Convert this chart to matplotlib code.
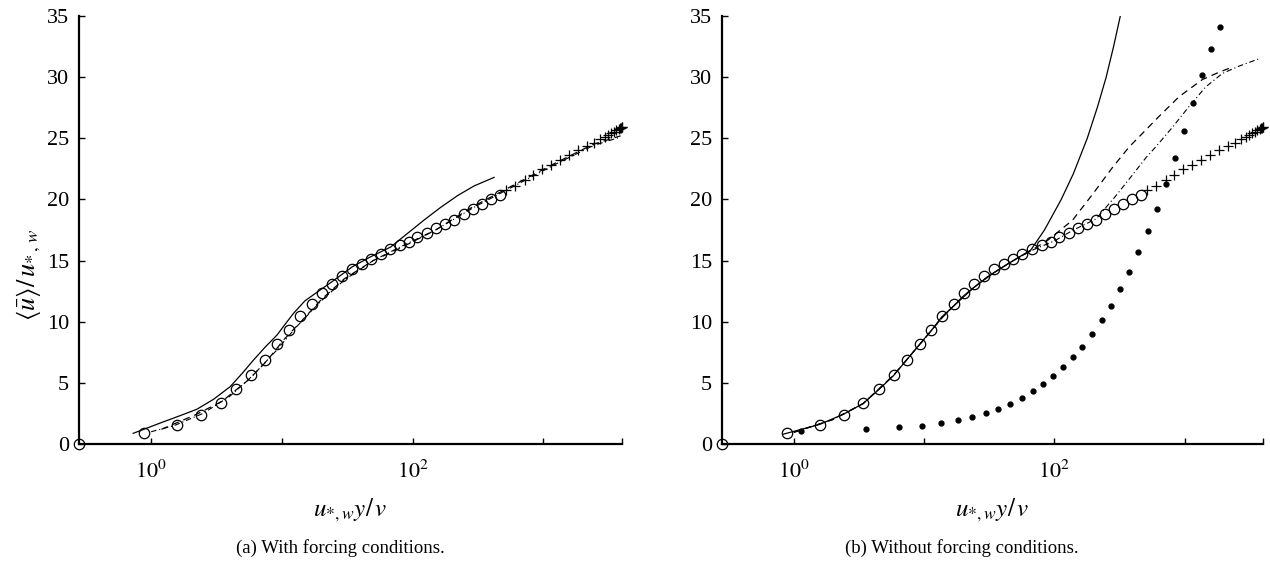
"""
Mean velocity profiles in wall units, with and without forcing conditions.
"""

import matplotlib
matplotlib.use('Agg')
import matplotlib.pyplot as plt
from matplotlib.ticker import NullLocator

plt.rcParams['font.family'] = ['Liberation Serif', 'DejaVu Serif']
plt.rcParams['mathtext.fontset'] = 'stix'

X_MIN, X_MAX = 0.281, 4000

# reference DNS profile, inner part (open circles)
dns_yp = [0.281, 0.88, 1.58, 2.42, 3.40, 4.50, 5.84, 7.38, 9.24, 11.4, 13.7, 16.9,
          20.2, 24.1, 28.7, 34.3, 40.9, 48.3, 56.9, 67.6, 79.8, 93.7, 109, 129,
          152, 177, 209, 246, 288, 338, 398, 464]
dns_up = [0.0, 0.87, 1.55, 2.39, 3.35, 4.47, 5.61, 6.89, 8.15, 9.34, 10.5, 11.45,
          12.32, 13.06, 13.74, 14.28, 14.72, 15.15, 15.56, 15.95, 16.29, 16.54, 16.90, 17.28,
          17.64, 17.99, 18.32, 18.79, 19.2, 19.6, 20.0, 20.4]

# reference DNS profile, outer part (crosses)
out_yp = [519, 608, 718, 836, 975, 1148, 1338, 1560, 1837, 2142, 2437, 2709,
          2943, 3120, 3290, 3467, 3627, 3760, 3856, 3924, 3970, 3990]
out_up = [20.77, 21.1, 21.6, 22.0, 22.45, 22.8, 23.2, 23.6, 24.0, 24.36, 24.6, 24.9,
          25.1, 25.25, 25.4, 25.55, 25.65, 25.75, 25.8, 25.85, 25.9, 25.95]

# (a) LES runs with forcing
a_solid_yp = [0.73, 1.2, 1.7, 2.24, 3.0, 4.03, 5.0, 6.08, 7.5, 9.19, 10.7, 12.3, 15.0,
              19.7, 24.4, 34.7, 47.6, 67.8, 91, 122, 164, 220, 295, 420]
a_solid_up = [0.87, 1.75, 2.35, 2.84, 3.65, 4.69, 5.8, 6.87, 7.95, 8.91, 9.85, 10.69, 11.7,
              12.6, 13.3, 14.5, 15.3, 16.1, 17.2, 18.3, 19.35, 20.3, 21.1, 21.8]
a_dash_yp = [1.2, 2.2, 3.5, 5.5, 7.7, 10.3, 14, 20, 30, 50, 80, 150, 300, 600, 1200, 2400, 3900]
a_dash_up = [1.2, 2.4, 3.5, 5.2, 6.8, 8.5, 10.0, 11.8, 13.5, 15.0, 16.0, 17.5, 19.5, 21.2,
             22.9, 24.5, 25.2]
a_dd_yp = [1.0, 1.5, 2.5, 4, 6, 9, 13, 20, 30, 50, 80, 150, 300, 600, 1200, 2400, 3900]
a_dd_up = [1.0, 1.5, 2.5, 3.9, 5.6, 7.6, 9.6, 11.7, 13.4, 15.0, 16.1, 17.5, 19.4, 21.1,
           22.8, 24.4, 25.1]

# (b) LES runs without forcing
b_solid_yp = [0.83, 1.58, 2.42, 3.4, 4.5, 5.84, 7.38, 9.24, 11.4, 13.7, 18.2, 24.1,
              34.3, 48.3, 66, 84, 113, 140, 179, 215, 250, 285, 321]
b_solid_up = [0.8, 1.6, 2.45, 3.3, 4.45, 5.6, 6.9, 8.15, 9.3, 10.4, 11.6, 12.8,
              14.0, 15.0, 15.86, 17.5, 20.0, 22.1, 25.0, 27.6, 30.0, 32.5, 35.0]
b_dash_yp = [1.0, 2.0, 3.4, 5.8, 9.2, 13.7, 20, 30, 45, 66, 90, 138, 196, 279, 376,
             475, 638, 907, 1368, 1837, 2300]
b_dash_up = [0.95, 2.0, 3.3, 5.6, 8.1, 10.3, 12.1, 13.6, 14.8, 15.8, 16.7, 18.3, 20.4,
             22.6, 24.3, 25.4, 26.8, 28.4, 29.8, 30.4, 30.8]
b_dd_yp = [1.0, 2.0, 3.4, 5.8, 9.2, 13.7, 20, 30, 45, 66, 100, 140, 209, 297, 398,
           504, 601, 807, 1082, 1452, 1950, 2617, 3727]
b_dd_up = [0.95, 2.0, 3.3, 5.6, 8.1, 10.3, 12.1, 13.6, 14.8, 15.8, 16.6, 17.5, 18.4,
           20.3, 22.0, 23.4, 24.3, 25.9, 27.6, 29.2, 30.3, 30.9, 31.5]
b_dot_yp = [1.13, 3.6, 6.4, 9.7, 13.6, 18.1, 23.5, 30.1, 37.2, 46, 56, 68, 82, 98, 117,
            139, 163, 195, 233, 272, 321, 377, 440, 526, 618, 726, 848, 995, 1160,
            1360, 1600, 1870]
b_dot_up = [1.1, 1.2, 1.35, 1.5, 1.75, 1.96, 2.2, 2.55, 2.9, 3.3, 3.8, 4.3, 4.9, 5.55,
            6.3, 7.1, 7.95, 9.0, 10.1, 11.3, 12.7, 14.1, 15.7, 17.4, 19.2, 21.3, 23.4,
            25.6, 27.9, 30.2, 32.3, 34.1]

DASHED = (5.5, 4)
DASHDOT = (5, 2.5, 1, 2.5)


def draw_reference(ax):
    ax.plot(dns_yp, dns_up, 'o', mfc='none', mec='black', ms=7.5, mew=0.9, clip_on=False, zorder=3)
    ax.plot(out_yp, out_up, '+', color='black', ms=6.5, mew=0.9, clip_on=False, zorder=3)


def style_axes(ax):
    ax.set_xscale('log')
    ax.set_xlim(X_MIN, X_MAX)
    ax.set_ylim(0, 35)
    ax.set_xticks([1, 10, 100, 1000, X_MAX])
    ax.set_xticklabels([r'$10^0$', '', r'$10^2$', '', ''])
    ax.xaxis.set_minor_locator(NullLocator())
    ax.set_yticks(range(0, 36, 5))
    ax.tick_params(direction='in', length=4, width=1, labelsize=16)
    ax.tick_params(axis='y', pad=7)
    ax.tick_params(axis='x', pad=12)
    for side in ['top', 'right']:
        ax.spines[side].set_visible(False)
    for side in ['left', 'bottom']:
        ax.spines[side].set_linewidth(1.6)
    ax.set_xlabel(r'$u_{*,w}y/\,v$', fontsize=18, labelpad=10)


fig = plt.figure(figsize=(12.7, 5.65), dpi=100)
ax_a = fig.add_axes([0.0622, 0.2142, 0.4276, 0.7575])
ax_b = fig.add_axes([0.5685, 0.2142, 0.4260, 0.7575])

# (a) with forcing
ax_a.plot(a_solid_yp, a_solid_up, '-', color='black', lw=0.9)
ax_a.plot(a_dash_yp, a_dash_up, '--', color='black', lw=0.9, dashes=DASHED)
ax_a.plot(a_dd_yp, a_dd_up, '-.', color='black', lw=0.8, dashes=DASHDOT)
draw_reference(ax_a)
style_axes(ax_a)
ax_a.set_ylabel(r'$\langle\bar{u}\rangle/\,u_{*\,,\,w}$', fontsize=19)
ax_a.yaxis.set_label_coords(-0.066, 0.395)

# (b) without forcing
ax_b.plot(b_solid_yp, b_solid_up, '-', color='black', lw=0.9)
ax_b.plot(b_dash_yp, b_dash_up, '--', color='black', lw=0.9, dashes=DASHED)
ax_b.plot(b_dd_yp, b_dd_up, '-.', color='black', lw=0.8, dashes=DASHDOT)
ax_b.plot(b_dot_yp, b_dot_up, 'o', color='black', ms=3.5, clip_on=False)
draw_reference(ax_b)
style_axes(ax_b)

fig.text(0.268, 0.03, '(a) With forcing conditions.', ha='center', va='center', fontsize=13.5)
fig.text(0.757, 0.03, '(b) Without forcing conditions.', ha='center', va='center', fontsize=13.5)

plt.savefig('out.png', dpi=100)
plt.close()
